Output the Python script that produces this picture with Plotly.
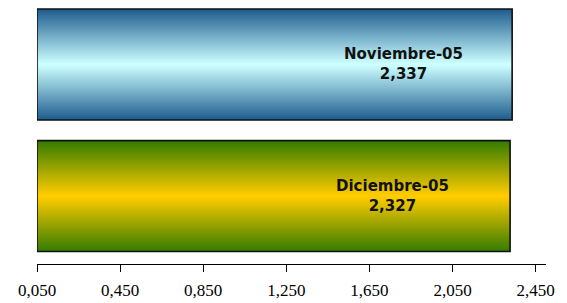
import plotly.graph_objects as go

# ---- data ----
categories = ["Noviembre-05", "Diciembre-05"]
values = [2.337, 2.327]
tick_values = [0.05, 0.45, 0.85, 1.25, 1.65, 2.05, 2.45]
tick_labels = ["0,050", "0,450", "0,850", "1,250", "1,650", "2,050", "2,450"]

# ---- style ----
X_MIN, X_MAX = 0.05, 2.5
edge_colors = [(32, 94, 144), (54, 124, 0)]
center_colors = [(204, 255, 255), (255, 204, 0)]
label_x = [1.812, 1.759]
BAR_W = 0.843
N_LAYERS = 40

fig = go.Figure()

for ci, (cat, val) in enumerate(zip(categories, values)):
    e, c = edge_colors[ci], center_colors[ci]
    for i in range(N_LAYERS):
        t = i / (N_LAYERS - 1)
        col = tuple(round(e[k] + (c[k] - e[k]) * t) for k in range(3))
        w = BAR_W * (1 - i / N_LAYERS)
        fig.add_trace(go.Bar(
            y=[cat], x=[val - X_MIN], base=[X_MIN], orientation="h",
            width=w, marker=dict(color="rgb(%d,%d,%d)" % col, line=dict(width=0)),
            showlegend=False, hoverinfo="skip",
        ))
    # outline
    fig.add_trace(go.Bar(
        y=[cat], x=[val - X_MIN], base=[X_MIN], orientation="h",
        width=BAR_W, marker=dict(color="rgba(0,0,0,0)", line=dict(color="#111111", width=1.6)),
        showlegend=False, name=cat,
        hovertemplate=cat + ": " + f"{val:.3f}".replace(".", ",") + "<extra></extra>",
    ))
    fig.add_annotation(
        x=label_x[ci], y=cat, xref="x", yref="y",
        text=f"<b>{cat}<br>{val:.3f}</b>".replace(".", ","),
        showarrow=False, align="center",
        font=dict(family="DejaVu Sans", size=15, color="#111111"),
    )

fig.update_layout(
    width=567, height=303,
    margin=dict(l=29, r=29, t=0, b=47, autoexpand=False),
    barmode="overlay",
    paper_bgcolor="white", plot_bgcolor="white",
    separators=",.",
    xaxis=dict(
        range=[X_MIN, X_MAX], tickmode="array", tickvals=tick_values, ticktext=tick_labels,
        ticks="outside", ticklen=7, tickwidth=1, tickcolor="black",
        showline=True, linecolor="black", linewidth=1,
        showgrid=False, zeroline=False, automargin=False,
        tickfont=dict(family="Liberation Serif", size=17, color="black"),
        ticklabelstandoff=4,
    ),
    yaxis=dict(
        type="category", categoryorder="array", categoryarray=categories,
        range=[1.516, -0.429], visible=False, automargin=False,
    ),
)

fig.write_html("out.html")
